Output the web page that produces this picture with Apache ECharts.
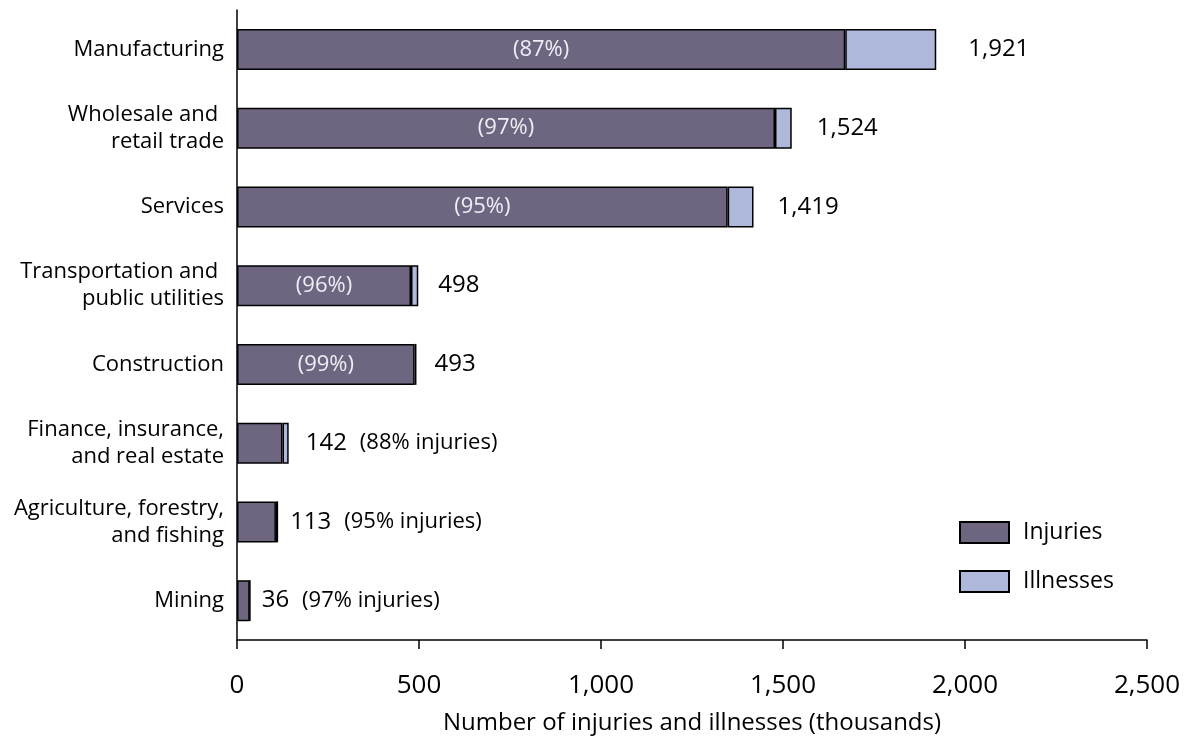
<!DOCTYPE html>
<html>
<head>
<meta charset="utf-8">
<script src="https://cdn.jsdelivr.net/npm/echarts@6/dist/echarts.min.js"></script>
<style>
html,body{margin:0;padding:0;background:#fff;}
#chart{width:1189px;height:740px;}
</style>
</head>
<body>
<div id="chart"></div>
<script>
const categories = [
  "Manufacturing",
  "Wholesale and \nretail trade",
  "Services",
  "Transportation and \npublic utilities",
  "Construction",
  "Finance, insurance,\nand real estate",
  "Agriculture, forestry,\nand fishing",
  "Mining"
];
const injuries  = [1671, 1478, 1348, 478, 488, 125, 107, 35];
const illnesses = [250, 46, 71, 20, 5, 17, 6, 1];
const totals    = ["1,921", "1,524", "1,419", "498", "493", "142", "113", "36"];
const shares    = ["(87%)", "(97%)", "(95%)", "(96%)", "(99%)", "(88% injuries)", "(95% injuries)", "(97% injuries)"];
const shareInside = [true, true, true, true, true, false, false, false];
const xTicks = [0, 500, 1000, 1500, 2000, 2500];

// label gap (px) from bar end to total label, per row (layout only)
const labelGaps = [32, 25, 24, 20, 18, 17, 12, 11];

const FONT = '"Open Sans", "Noto Sans", sans-serif';
const INJ = '#6e6581';
const ILL = '#adb8db';

const chart = echarts.init(document.getElementById('chart'));

const injData = injuries.map((v, i) => ({
  value: v,
  label: shareInside[i] ? {
    show: true, position: 'inside', formatter: shares[i],
    color: '#eeeef4', fontSize: 22, fontFamily: FONT
  } : { show: false }
}));
const illData = illnesses.map((v, i) => ({
  value: v,
  label: {
    show: true, position: 'right', distance: labelGaps[i],
    formatter: shareInside[i] ? '{t|' + totals[i] + '}' : '{t|' + totals[i] + '}{s|' + shares[i] + '}',
    rich: {
      t: { fontSize: 24, fontFamily: FONT, color: '#000' },
      s: { fontSize: 22, fontFamily: FONT, color: '#000', padding: [0, 0, 0, 13] }
    }
  }
}));

chart.setOption({
  animation: false,
  grid: { left: 237, right: 42, top: 10, bottom: 100, containLabel: false },
  legend: {
    orient: 'vertical', left: 954, top: 516,
    itemWidth: 49, itemHeight: 21, itemGap: 26,
    icon: 'rect',
    textStyle: { fontSize: 23, fontFamily: FONT, color: '#000', padding: [0, 0, 0, 9] },
    data: ['Injuries', 'Illnesses']
  },
  xAxis: {
    type: 'value', min: 0, max: 2500, interval: 500,
    name: 'Number of injuries and illnesses (thousands)',
    nameLocation: 'middle', nameGap: 71,
    nameTextStyle: { fontSize: 24, fontFamily: FONT, color: '#000' },
    axisLine: { show: true, lineStyle: { color: '#000', width: 1.5 } },
    axisTick: { show: true, length: 9, lineStyle: { color: '#000', width: 1.5 } },
    axisLabel: {
      fontSize: 26, fontFamily: FONT, color: '#000', margin: 33,
      formatter: v => xTicks.includes(v) ? v.toLocaleString('en-US') : ''
    },
    splitLine: { show: false }
  },
  yAxis: {
    type: 'category', data: categories, inverse: true,
    axisLine: { show: true, lineStyle: { color: '#000', width: 1.5 } },
    axisTick: { show: false },
    axisLabel: { fontSize: 22, fontFamily: FONT, color: '#000', margin: 13, lineHeight: 27, align: 'right' }
  },
  series: [
    {
      name: 'Injuries', type: 'bar', stack: 'total', barWidth: 41,
      itemStyle: { color: INJ, borderColor: '#000', borderWidth: 1.5 },
      data: injData
    },
    {
      name: 'Illnesses', type: 'bar', stack: 'total', barWidth: 41,
      itemStyle: { color: ILL, borderColor: '#000', borderWidth: 1.5 },
      data: illData
    }
  ]
});
</script>
</body>
</html>
